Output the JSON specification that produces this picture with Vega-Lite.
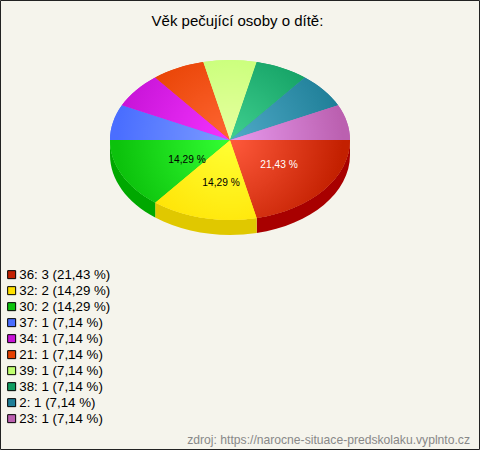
{
"$schema":"https://vega.github.io/schema/vega-lite/v6.json",
"width":479,"height":449,
"padding":{"left":0,"top":0,"right":1,"bottom":1},
"autosize":{"type":"none"},
"background":"#f5f4ec",
"view":{"fill":"#f5f4ec","stroke":"#222222","strokeWidth":1},
"title":{"text":"Věk pečující osoby o dítě:","anchor":"middle","dx":-2,"dy":33,"font":"Liberation Sans","fontSize":15,"fontWeight":"normal","color":"#000000"},
"data":{"values":[
{"age":"36","count":3,"pct":"21,43 %","label":"36: 3 (21,43 %)"},
{"age":"32","count":2,"pct":"14,29 %","label":"32: 2 (14,29 %)"},
{"age":"30","count":2,"pct":"14,29 %","label":"30: 2 (14,29 %)"},
{"age":"37","count":1,"pct":"7,14 %","label":"37: 1 (7,14 %)"},
{"age":"34","count":1,"pct":"7,14 %","label":"34: 1 (7,14 %)"},
{"age":"21","count":1,"pct":"7,14 %","label":"21: 1 (7,14 %)"},
{"age":"39","count":1,"pct":"7,14 %","label":"39: 1 (7,14 %)"},
{"age":"38","count":1,"pct":"7,14 %","label":"38: 1 (7,14 %)"},
{"age":"2","count":1,"pct":"7,14 %","label":"2: 1 (7,14 %)"},
{"age":"23","count":1,"pct":"7,14 %","label":"23: 1 (7,14 %)"}
]},
"layer":[
{"transform":[{"filter":"datum.age=='36'"}],"mark":{"type":"point","filled":true,"size":4,"opacity":1,"strokeWidth":0,"fill":"#a80000","shape":"M110.5,-84.5A120,80 0 0 1 17.2,-6.5L17.2,8.5A120,80 0 0 0 110.5,-69.5Z"}},
{"transform":[{"filter":"datum.age=='32'"}],"mark":{"type":"point","filled":true,"size":4,"opacity":1,"strokeWidth":0,"fill":"#e0c800","shape":"M17.2,-6.5A120,80 0 0 1 -84.3,-22L-84.3,-7A120,80 0 0 0 17.2,8.5Z"}},
{"transform":[{"filter":"datum.age=='30'"}],"mark":{"type":"point","filled":true,"size":4,"opacity":1,"strokeWidth":0,"fill":"#00a800","shape":"M-84.3,-22A120,80 0 0 1 -129.5,-84.5L-129.5,-69.5A120,80 0 0 0 -84.3,-7Z"}},
{"mark":{"type":"point","filled":true,"size":4,"opacity":1,"strokeWidth":0},
 "encoding":{
  "shape":{"field":"age","type":"nominal","legend":null,"sort":null,"scale":{"domain":["36","32","30","37","34","21","39","38","2","23"],"range":[
   "M-9.5,-84.5L110.5,-84.5A120,80 0 0 1 17.2,-6.5Z",
   "M-9.5,-84.5L17.2,-6.5A120,80 0 0 1 -84.3,-22Z",
   "M-9.5,-84.5L-84.3,-22A120,80 0 0 1 -129.5,-84.5Z",
   "M-9.5,-84.5L-129.5,-84.5A120,80 0 0 1 -117.6,-119.2Z",
   "M-9.5,-84.5L-117.6,-119.2A120,80 0 0 1 -84.3,-147Z",
   "M-9.5,-84.5L-84.3,-147A120,80 0 0 1 -36.2,-162.5Z",
   "M-9.5,-84.5L-36.2,-162.5A120,80 0 0 1 17.2,-162.5Z",
   "M-9.5,-84.5L17.2,-162.5A120,80 0 0 1 65.3,-147Z",
   "M-9.5,-84.5L65.3,-147A120,80 0 0 1 98.6,-119.2Z",
   "M-9.5,-84.5L98.6,-119.2A120,80 0 0 1 110.5,-84.5Z"]}},
  "fill":{"field":"label","type":"nominal","sort":null,"scale":{"domain":["36: 3 (21,43 %)","32: 2 (14,29 %)","30: 2 (14,29 %)","37: 1 (7,14 %)","34: 1 (7,14 %)","21: 1 (7,14 %)","39: 1 (7,14 %)","38: 1 (7,14 %)","2: 1 (7,14 %)","23: 1 (7,14 %)"],"range":["#c32000","#ffe000","#0cc20c","#4a6eff","#c814d8","#e64000","#c0ff70","#0f9c60","#1f7f98","#bb60b0"]},
   "legend":{"title":null,"orient":"none","legendX":5,"legendY":268,"symbolType":"square","symbolSize":64,"symbolStrokeColor":"#000000","symbolStrokeWidth":1,"symbolOpacity":1,"labelFont":"Liberation Sans","labelFontSize":13.3,"labelColor":"#000000","labelLimit":200,"rowPadding":2,"labelOffset":1}}
 }},
{"transform":[{"filter":"datum.age=='36'"}],"mark":{"type":"point","filled":true,"size":4,"opacity":1,"strokeWidth":0,"shape":"M-9.5,-84.5L110.5,-84.5A120,80 0 0 1 17.2,-6.5ZM-129.5,-164.5h0.01v0.01zM110.5,-4.5h0.01v0.01z","fill":{"gradient":"radial","x1":0.5,"y1":0.5,"r1":0,"x2":0.5,"y2":0.5,"r2":0.47,"stops":[{"offset":0,"color":"#ff5a3c"},{"offset":1,"color":"#c32000"}]}}},
{"transform":[{"filter":"datum.age=='32'"}],"mark":{"type":"point","filled":true,"size":4,"opacity":1,"strokeWidth":0,"shape":"M-9.5,-84.5L17.2,-6.5A120,80 0 0 1 -84.3,-22ZM-129.5,-164.5h0.01v0.01zM110.5,-4.5h0.01v0.01z","fill":{"gradient":"radial","x1":0.5,"y1":0.5,"r1":0,"x2":0.5,"y2":0.5,"r2":0.47,"stops":[{"offset":0,"color":"#ffff33"},{"offset":1,"color":"#ffe000"}]}}},
{"transform":[{"filter":"datum.age=='30'"}],"mark":{"type":"point","filled":true,"size":4,"opacity":1,"strokeWidth":0,"shape":"M-9.5,-84.5L-84.3,-22A120,80 0 0 1 -129.5,-84.5ZM-129.5,-164.5h0.01v0.01zM110.5,-4.5h0.01v0.01z","fill":{"gradient":"radial","x1":0.5,"y1":0.5,"r1":0,"x2":0.5,"y2":0.5,"r2":0.47,"stops":[{"offset":0,"color":"#33ff33"},{"offset":1,"color":"#0cc20c"}]}}},
{"transform":[{"filter":"datum.age=='37'"}],"mark":{"type":"point","filled":true,"size":4,"opacity":1,"strokeWidth":0,"shape":"M-9.5,-84.5L-129.5,-84.5A120,80 0 0 1 -117.6,-119.2ZM-129.5,-164.5h0.01v0.01zM110.5,-4.5h0.01v0.01z","fill":{"gradient":"radial","x1":0.5,"y1":0.5,"r1":0,"x2":0.5,"y2":0.5,"r2":0.47,"stops":[{"offset":0,"color":"#7c9cff"},{"offset":1,"color":"#4a6eff"}]}}},
{"transform":[{"filter":"datum.age=='34'"}],"mark":{"type":"point","filled":true,"size":4,"opacity":1,"strokeWidth":0,"shape":"M-9.5,-84.5L-117.6,-119.2A120,80 0 0 1 -84.3,-147ZM-129.5,-164.5h0.01v0.01zM110.5,-4.5h0.01v0.01z","fill":{"gradient":"radial","x1":0.5,"y1":0.5,"r1":0,"x2":0.5,"y2":0.5,"r2":0.47,"stops":[{"offset":0,"color":"#f433ff"},{"offset":1,"color":"#c814d8"}]}}},
{"transform":[{"filter":"datum.age=='21'"}],"mark":{"type":"point","filled":true,"size":4,"opacity":1,"strokeWidth":0,"shape":"M-9.5,-84.5L-84.3,-147A120,80 0 0 1 -36.2,-162.5ZM-129.5,-164.5h0.01v0.01zM110.5,-4.5h0.01v0.01z","fill":{"gradient":"radial","x1":0.5,"y1":0.5,"r1":0,"x2":0.5,"y2":0.5,"r2":0.47,"stops":[{"offset":0,"color":"#ff6633"},{"offset":1,"color":"#e64000"}]}}},
{"transform":[{"filter":"datum.age=='39'"}],"mark":{"type":"point","filled":true,"size":4,"opacity":1,"strokeWidth":0,"shape":"M-9.5,-84.5L-36.2,-162.5A120,80 0 0 1 17.2,-162.5ZM-129.5,-164.5h0.01v0.01zM110.5,-4.5h0.01v0.01z","fill":{"gradient":"radial","x1":0.5,"y1":0.5,"r1":0,"x2":0.5,"y2":0.5,"r2":0.47,"stops":[{"offset":0,"color":"#e8ffa0"},{"offset":1,"color":"#c0ff70"}]}}},
{"transform":[{"filter":"datum.age=='38'"}],"mark":{"type":"point","filled":true,"size":4,"opacity":1,"strokeWidth":0,"shape":"M-9.5,-84.5L17.2,-162.5A120,80 0 0 1 65.3,-147ZM-129.5,-164.5h0.01v0.01zM110.5,-4.5h0.01v0.01z","fill":{"gradient":"radial","x1":0.5,"y1":0.5,"r1":0,"x2":0.5,"y2":0.5,"r2":0.47,"stops":[{"offset":0,"color":"#40d090"},{"offset":1,"color":"#0f9c60"}]}}},
{"transform":[{"filter":"datum.age=='2'"}],"mark":{"type":"point","filled":true,"size":4,"opacity":1,"strokeWidth":0,"shape":"M-9.5,-84.5L65.3,-147A120,80 0 0 1 98.6,-119.2ZM-129.5,-164.5h0.01v0.01zM110.5,-4.5h0.01v0.01z","fill":{"gradient":"radial","x1":0.5,"y1":0.5,"r1":0,"x2":0.5,"y2":0.5,"r2":0.47,"stops":[{"offset":0,"color":"#50aac8"},{"offset":1,"color":"#1f7f98"}]}}},
{"transform":[{"filter":"datum.age=='23'"}],"mark":{"type":"point","filled":true,"size":4,"opacity":1,"strokeWidth":0,"shape":"M-9.5,-84.5L98.6,-119.2A120,80 0 0 1 110.5,-84.5ZM-129.5,-164.5h0.01v0.01zM110.5,-4.5h0.01v0.01z","fill":{"gradient":"radial","x1":0.5,"y1":0.5,"r1":0,"x2":0.5,"y2":0.5,"r2":0.47,"stops":[{"offset":0,"color":"#e89aee"},{"offset":1,"color":"#bb60b0"}]}}},
{"transform":[{"filter":"datum.age=='36'"}],
 "mark":{"type":"text","font":"Liberation Sans","fontSize":10.2,"color":"#ffffff","dx":39.5,"dy":-60},
 "encoding":{"text":{"field":"pct","type":"nominal"}}},
{"transform":[{"filter":"datum.age=='32'"}],
 "mark":{"type":"text","font":"Liberation Sans","fontSize":10.2,"color":"#000000","dx":-18.5,"dy":-42},
 "encoding":{"text":{"field":"pct","type":"nominal"}}},
{"transform":[{"filter":"datum.age=='30'"}],
 "mark":{"type":"text","font":"Liberation Sans","fontSize":10.2,"color":"#000000","dx":-52.5,"dy":-65},
 "encoding":{"text":{"field":"pct","type":"nominal"}}},
{"data":{"values":[{"source":"zdroj: https://narocne-situace-predskolaku.vyplnto.cz"}]},
 "mark":{"type":"text","font":"Liberation Sans","fontSize":12.15,"color":"#888888","align":"right","dx":230.5,"dy":215.5},
 "encoding":{"text":{"field":"source","type":"nominal"}}}
]
}
